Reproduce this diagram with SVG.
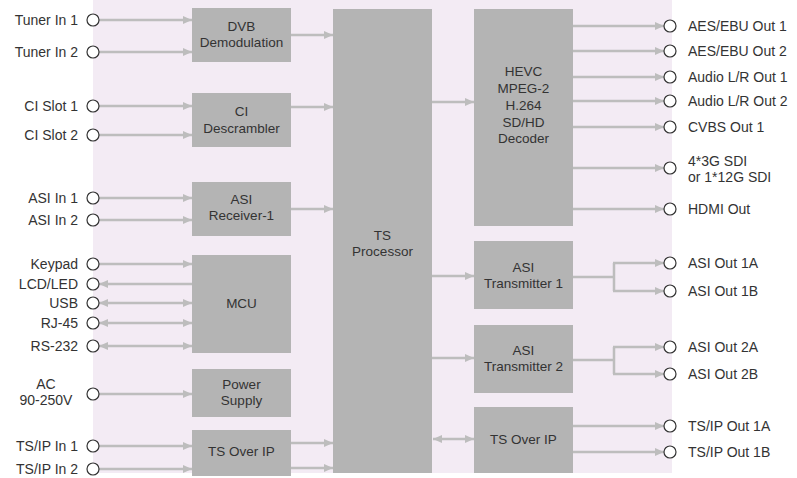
<svg xmlns="http://www.w3.org/2000/svg" width="797" height="478" viewBox="0 0 797 478">
<style>
text{font-family:"Liberation Sans",Arial,sans-serif;font-size:14px;fill:#333}
.box{fill:#b4b4b4}
.box + text, .box ~ text{font-size:13.5px}
.c{fill:#fff;stroke:#333;stroke-width:1.2}
.ln{stroke:#bdbdbd;stroke-width:2.5;fill:none}
.a{marker-end:url(#ah)}
.b{marker-start:url(#ah);marker-end:url(#ah)}
.s{marker-start:url(#ah)}
.m{text-anchor:middle}
.e{text-anchor:end}
</style>
<defs>
<marker id="ah" markerUnits="userSpaceOnUse" markerWidth="10" markerHeight="9" refX="9" refY="4" orient="auto-start-reverse">
<path d="M0,0 L9,4 L0,8 z" fill="#bdbdbd"/>
</marker>
</defs>
<rect x="93" y="0" width="579" height="473" fill="#f3ebf4"/>
<g id="connectors">
<line class="ln a" x1="99" y1="20" x2="192" y2="20"/>
<line class="ln a" x1="99" y1="52" x2="192" y2="52"/>
<line class="ln a" x1="99" y1="106" x2="192" y2="106"/>
<line class="ln a" x1="99" y1="135" x2="192" y2="135"/>
<line class="ln a" x1="99" y1="198" x2="192" y2="198"/>
<line class="ln a" x1="99" y1="220" x2="192" y2="220"/>
<line class="ln a" x1="99" y1="264" x2="192" y2="264"/>
<line class="ln s" x1="99" y1="284" x2="192" y2="284"/>
<line class="ln b" x1="99" y1="303" x2="192" y2="303"/>
<line class="ln b" x1="99" y1="323" x2="192" y2="323"/>
<line class="ln b" x1="99" y1="346" x2="192" y2="346"/>
<line class="ln a" x1="99" y1="394" x2="192" y2="394"/>
<line class="ln a" x1="99" y1="446" x2="192" y2="446"/>
<line class="ln a" x1="99" y1="469" x2="192" y2="469"/>
<line class="ln a" x1="291" y1="35" x2="333" y2="35"/>
<line class="ln a" x1="291" y1="107" x2="333" y2="107"/>
<line class="ln a" x1="291" y1="209" x2="333" y2="209"/>
<line class="ln a" x1="291" y1="443" x2="333" y2="443"/>
<line class="ln a" x1="291" y1="468" x2="333" y2="468"/>
<line class="ln a" x1="432" y1="102" x2="474" y2="102"/>
<line class="ln a" x1="432" y1="276" x2="474" y2="276"/>
<line class="ln a" x1="432" y1="358" x2="474" y2="358"/>
<line class="ln b" x1="433" y1="439" x2="474" y2="439"/>
<line class="ln a" x1="573" y1="26" x2="664" y2="26"/>
<line class="ln a" x1="573" y1="51" x2="664" y2="51"/>
<line class="ln a" x1="573" y1="77" x2="664" y2="77"/>
<line class="ln a" x1="573" y1="101" x2="664" y2="101"/>
<line class="ln a" x1="573" y1="127" x2="664" y2="127"/>
<line class="ln a" x1="573" y1="168" x2="664" y2="168"/>
<line class="ln a" x1="573" y1="209" x2="664" y2="209"/>
<path class="ln" d="M573,277 H614 M614,263 V291"/>
<line class="ln a" x1="613" y1="263" x2="664" y2="263"/>
<line class="ln a" x1="613" y1="291" x2="664" y2="291"/>
<path class="ln" d="M573,360 H614 M614,347 V374"/>
<line class="ln a" x1="613" y1="347" x2="664" y2="347"/>
<line class="ln a" x1="613" y1="374" x2="664" y2="374"/>
<line class="ln a" x1="573" y1="426" x2="664" y2="426"/>
<line class="ln a" x1="573" y1="452" x2="664" y2="452"/>
</g>
<g id="dvb"><rect class="box" x="192" y="8" width="99" height="54"/><text class="m" x="241.5" y="31">DVB</text><text class="m" x="241.5" y="47">Demodulation</text></g>
<g id="ci"><rect class="box" x="192" y="93" width="99" height="54"/><text class="m" x="241.5" y="116">CI</text><text class="m" x="241.5" y="133">Descrambler</text></g>
<g id="asirx"><rect class="box" x="192" y="182" width="99" height="54"/><text class="m" x="241.5" y="204">ASI</text><text class="m" x="241.5" y="220">Receiver-1</text></g>
<g id="mcu"><rect class="box" x="192" y="255" width="99" height="98"/><text class="m" x="241.5" y="308">MCU</text></g>
<g id="power"><rect class="box" x="192" y="369" width="99" height="48"/><text class="m" x="241.5" y="389">Power</text><text class="m" x="241.5" y="405">Supply</text></g>
<g id="tsipin"><rect class="box" x="192" y="430" width="99" height="46"/><text class="m" x="241.5" y="456">TS Over IP</text></g>
<g id="tsproc"><rect class="box" x="333" y="9" width="99" height="464"/><text class="m" x="382.5" y="240">TS</text><text class="m" x="382.5" y="256">Processor</text></g>
<g id="decoder"><rect class="box" x="474" y="9" width="99" height="217"/><text class="m" x="523.5" y="76">HEVC</text><text class="m" x="523.5" y="93">MPEG-2</text><text class="m" x="523.5" y="110">H.264</text><text class="m" x="523.5" y="127">SD/HD</text><text class="m" x="523.5" y="143">Decoder</text></g>
<g id="asitx1"><rect class="box" x="474" y="241" width="99" height="68"/><text class="m" x="523.5" y="272">ASI</text><text class="m" x="523.5" y="288">Transmitter 1</text></g>
<g id="asitx2"><rect class="box" x="474" y="325" width="99" height="68"/><text class="m" x="523.5" y="355">ASI</text><text class="m" x="523.5" y="371">Transmitter 2</text></g>
<g id="tsipout"><rect class="box" x="474" y="407" width="99" height="66"/><text class="m" x="523.5" y="444">TS Over IP</text></g>
<g id="inputs">
<circle class="c" cx="93" cy="20" r="6"/><text class="e" x="78" y="25">Tuner In 1</text>
<circle class="c" cx="93" cy="52" r="6"/><text class="e" x="78" y="57">Tuner In 2</text>
<circle class="c" cx="93" cy="106" r="6"/><text class="e" x="78" y="111">CI Slot  1</text>
<circle class="c" cx="93" cy="135" r="6"/><text class="e" x="78" y="140">CI Slot  2</text>
<circle class="c" cx="93" cy="198" r="6"/><text class="e" x="78" y="203">ASI In 1</text>
<circle class="c" cx="93" cy="220" r="6"/><text class="e" x="78" y="225">ASI In 2</text>
<circle class="c" cx="93" cy="264" r="6"/><text class="e" x="78" y="269">Keypad</text>
<circle class="c" cx="93" cy="284" r="6"/><text class="e" x="78" y="289">LCD/LED</text>
<circle class="c" cx="93" cy="303" r="6"/><text class="e" x="78" y="308">USB</text>
<circle class="c" cx="93" cy="323" r="6"/><text class="e" x="78" y="328">RJ-45</text>
<circle class="c" cx="93" cy="346" r="6"/><text class="e" x="78" y="351">RS-232</text>
<circle class="c" cx="93" cy="394" r="6"/><text class="m" x="46" y="389">AC</text><text class="m" x="46" y="405">90-250V</text>
<circle class="c" cx="93" cy="446" r="6"/><text class="e" x="78" y="451">TS/IP In 1</text>
<circle class="c" cx="93" cy="469" r="6"/><text class="e" x="78" y="474">TS/IP In 2</text>
</g>
<g id="outputs">
<circle class="c" cx="670" cy="26" r="6"/><text x="688" y="31">AES/EBU Out 1</text>
<circle class="c" cx="670" cy="51" r="6"/><text x="688" y="56">AES/EBU Out 2</text>
<circle class="c" cx="670" cy="77" r="6"/><text x="688" y="82">Audio L/R Out 1</text>
<circle class="c" cx="670" cy="101" r="6"/><text x="688" y="106">Audio L/R Out 2</text>
<circle class="c" cx="670" cy="127" r="6"/><text x="688" y="132">CVBS Out  1</text>
<circle class="c" cx="670" cy="168" r="6"/><text x="688" y="166">4*3G SDI</text><text x="688" y="182">or 1*12G SDI</text>
<circle class="c" cx="670" cy="209" r="6"/><text x="688" y="214">HDMI Out</text>
<circle class="c" cx="670" cy="263" r="6"/><text x="688" y="268">ASI Out 1A</text>
<circle class="c" cx="670" cy="291" r="6"/><text x="688" y="296">ASI Out 1B</text>
<circle class="c" cx="670" cy="347" r="6"/><text x="688" y="352">ASI Out 2A</text>
<circle class="c" cx="670" cy="374" r="6"/><text x="688" y="379">ASI Out 2B</text>
<circle class="c" cx="670" cy="426" r="6"/><text x="688" y="431">TS/IP Out 1A</text>
<circle class="c" cx="670" cy="452" r="6"/><text x="688" y="457">TS/IP Out 1B</text>
</g>
</svg>
